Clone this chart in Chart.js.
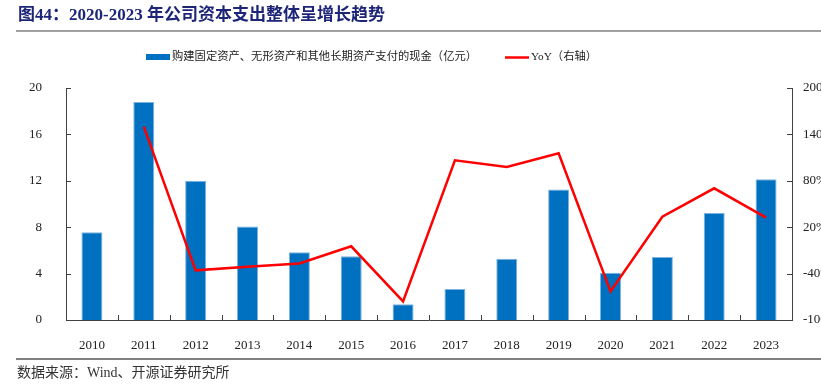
<!DOCTYPE html>
<html>
<head>
<meta charset="utf-8">
<script src="https://cdn.jsdelivr.net/npm/chart.js@4.4.0/dist/chart.umd.min.js"></script>
<style>
  html, body { margin: 0; padding: 0; background: #fff; overflow: hidden; }
  canvas { display: block; }
</style>
</head>
<body>
<canvas id="capexChart" width="850" height="385"></canvas>
<script>
const years = ['2010', '2011', '2012', '2013', '2014', '2015', '2016',
  '2017', '2018', '2019', '2020', '2021', '2022', '2023'];
const capex = [7.56, 18.8, 12.0, 8.05, 5.83, 5.49, 1.35,
  2.67, 5.29, 11.26, 4.08, 5.43, 9.22, 12.13];
const yoy = [null, 150, -35.8, -31, -27, -4.7, -76,
  106.5, 98, 115.5, -63, 33.6, 70.3, 32.3];
const leftTicks = [0, 4, 8, 12, 16, 20];
const rightTicks = [-100, -40, 20, 80, 140, 200];

const titleText = '图44：2020-2023 年公司资本支出整体呈增长趋势';
const sourceText = '数据来源：Wind、开源证券研究所';
const barLabel = '购建固定资产、无形资产和其他长期资产支付的现金（亿元）';
const lineLabel = 'YoY（右轴）';

const SERIF = "'Liberation Serif', 'Noto Sans CJK SC', serif";
const CJK = "'Liberation Serif', 'Noto Sans CJK SC', serif";

// page decorations + inward tick marks
const decorations = {
  id: 'decorations',
  afterDraw(chart) {
    const ctx = chart.ctx;
    const area = chart.chartArea;
    const yl = chart.scales.yLeft, yr = chart.scales.yRight;
    ctx.save();

    // title
    ctx.fillStyle = '#1c2577';
    ctx.font = "bold 17px " + CJK;
    ctx.textBaseline = 'middle';
    ctx.textAlign = 'left';
    ctx.fillText(titleText, 18, 16);
    ctx.strokeStyle = '#808080';
    ctx.lineWidth = 1.5;
    ctx.beginPath(); ctx.moveTo(16, 31); ctx.lineTo(850, 31); ctx.stroke();

    // legend
    ctx.fillStyle = '#0070C0';
    ctx.fillRect(146, 54, 24, 6);
    ctx.fillStyle = '#222';
    ctx.font = "11.3px " + CJK;
    ctx.fillText(barLabel, 172, 57);
    ctx.strokeStyle = '#FF0000';
    ctx.lineWidth = 2.5;
    ctx.beginPath(); ctx.moveTo(505, 57.5); ctx.lineTo(529, 57.5); ctx.stroke();
    ctx.fillText(lineLabel, 531, 57);

    // footer
    ctx.strokeStyle = '#808080';
    ctx.lineWidth = 2;
    ctx.beginPath(); ctx.moveTo(16, 359); ctx.lineTo(850, 359); ctx.stroke();
    ctx.fillStyle = '#333';
    ctx.font = "14px " + CJK;
    ctx.fillText(sourceText, 17, 373);

    // tick marks pointing into the plot
    ctx.strokeStyle = '#404040';
    ctx.lineWidth = 1;
    ctx.beginPath();
    leftTicks.forEach(v => {
      const py = Math.round(yl.getPixelForValue(v)) + 0.5;
      ctx.moveTo(area.left, py); ctx.lineTo(area.left + 5, py);
    });
    rightTicks.forEach(v => {
      const py = Math.round(yr.getPixelForValue(v)) + 0.5;
      ctx.moveTo(area.right, py); ctx.lineTo(area.right - 5, py);
    });
    const step = (area.right - area.left) / years.length;
    for (let i = 1; i < years.length; i++) {
      const px = Math.round(area.left + step * i) + 0.5;
      ctx.moveTo(px, area.bottom); ctx.lineTo(px, area.bottom - 5);
    }
    ctx.stroke();
    ctx.restore();
  }
};

const chart_config = {
  data: {
    labels: years,
    datasets: [
      {
        type: 'line',
        label: lineLabel,
        data: yoy,
        yAxisID: 'yRight',
        borderColor: '#FF0000',
        borderWidth: 2.5,
        pointRadius: 0,
        tension: 0,
        order: 0
      },
      {
        type: 'bar',
        label: barLabel,
        data: capex,
        yAxisID: 'yLeft',
        backgroundColor: '#0070C0',
        borderColor: '#7FB2DE',
        borderWidth: 1,
        barPercentage: 0.81,
        categoryPercentage: 0.5,
        order: 1
      }
    ]
  },
  options: {
    responsive: false,
    animation: false,
    layout: { padding: { top: 88, left: 0, right: 0, bottom: 0 } },
    plugins: {
      legend: { display: false },
      tooltip: { enabled: false }
    },
    scales: {
      x: {
        offset: true,
        grid: { display: false },
        border: { display: true, color: '#404040', width: 1 },
        ticks: { color: '#222', font: { family: SERIF, size: 13 }, padding: 10, maxRotation: 0 },
        afterFit(scale) { scale.height = 65; }
      },
      yLeft: {
        position: 'left',
        min: 0,
        max: 20,
        afterBuildTicks(scale) { scale.ticks = leftTicks.map(v => ({ value: v })); },
        grid: { display: false },
        border: { display: true, color: '#404040', width: 1 },
        ticks: { color: '#222', font: { family: SERIF, size: 13 }, padding: 16 },
        afterFit(scale) { scale.width = 66; }
      },
      yRight: {
        position: 'right',
        min: -100,
        max: 200,
        afterBuildTicks(scale) { scale.ticks = rightTicks.map(v => ({ value: v })); },
        grid: { display: false },
        border: { display: true, color: '#404040', width: 1 },
        ticks: {
          color: '#222',
          font: { family: SERIF, size: 13 },
          padding: 3,
          callback: v => v + '%'
        },
        afterFit(scale) { scale.width = 58; }
      }
    }
  },
  plugins: [decorations]
};

const capexChart = new Chart(document.getElementById('capexChart'), chart_config);
</script>
</body>
</html>
